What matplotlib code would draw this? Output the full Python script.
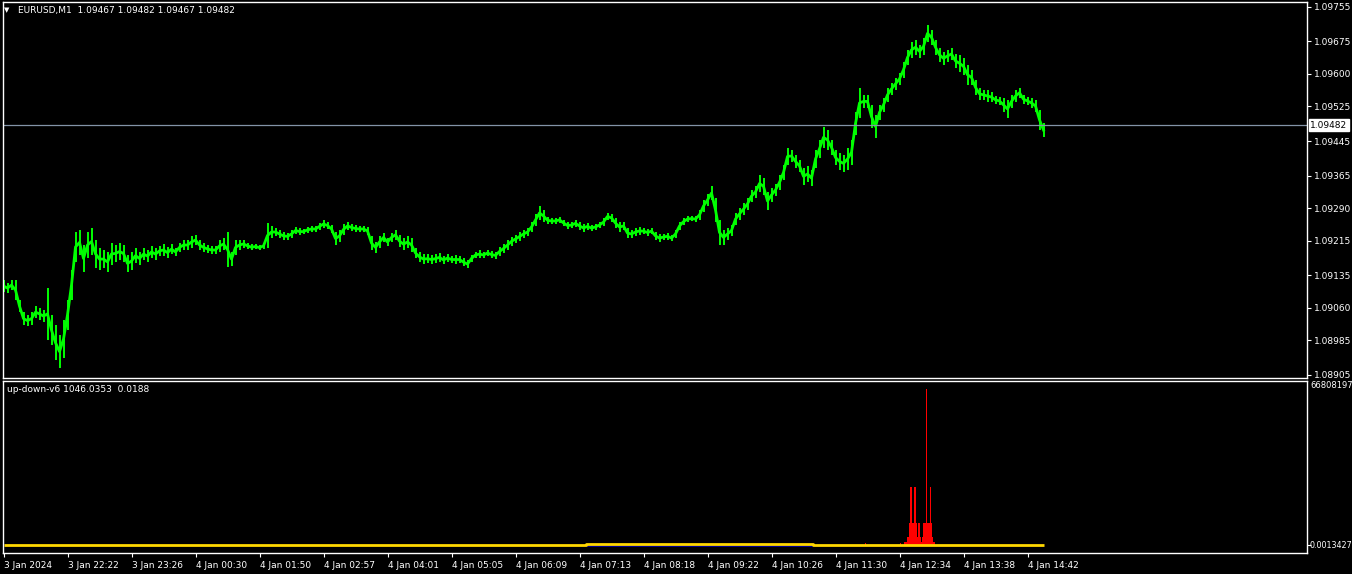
import numpy as np
import matplotlib.pyplot as plt

# EURUSD M1, high / low of every 4th bar
highs = [
    1.09124, 1.09117, 1.09124, 1.09124, 1.09078, 1.09050, 1.09043, 1.09050, 1.09064, 1.09060,
    1.09055, 1.09106, 1.09043, 1.09020, 1.08997, 1.09032, 1.09078, 1.09147, 1.09235, 1.09240,
    1.09205, 1.09235, 1.09244, 1.09217, 1.09198, 1.09193, 1.09189, 1.09210, 1.09205, 1.09210,
    1.09205, 1.09182, 1.09189, 1.09198, 1.09189, 1.09198, 1.09193, 1.09203, 1.09198, 1.09203,
    1.09207, 1.09200, 1.09207, 1.09198, 1.09210, 1.09217, 1.09217, 1.09226, 1.09228, 1.09217,
    1.09210, 1.09205, 1.09203, 1.09203, 1.09217, 1.09221, 1.09235, 1.09189, 1.09217, 1.09217,
    1.09217, 1.09210, 1.09207, 1.09207, 1.09205, 1.09210, 1.09256, 1.09249, 1.09244, 1.09240,
    1.09235, 1.09233, 1.09240, 1.09247, 1.09244, 1.09242, 1.09247, 1.09249, 1.09249, 1.09256,
    1.09263, 1.09258, 1.09251, 1.09235, 1.09240, 1.09254, 1.09258, 1.09254, 1.09251, 1.09249,
    1.09249, 1.09247, 1.09226, 1.09212, 1.09226, 1.09233, 1.09221, 1.09233, 1.09240, 1.09228,
    1.09221, 1.09226, 1.09221, 1.09198, 1.09189, 1.09184, 1.09184, 1.09182, 1.09184, 1.09187,
    1.09180, 1.09184, 1.09180, 1.09182, 1.09180, 1.09175, 1.09170, 1.09182, 1.09189, 1.09193,
    1.09189, 1.09193, 1.09191, 1.09189, 1.09200, 1.09207, 1.09217, 1.09224, 1.09228, 1.09235,
    1.09240, 1.09244, 1.09258, 1.09277, 1.09295, 1.09286, 1.09270, 1.09267, 1.09267, 1.09270,
    1.09263, 1.09258, 1.09258, 1.09263, 1.09258, 1.09254, 1.09256, 1.09251, 1.09254, 1.09258,
    1.09267, 1.09279, 1.09277, 1.09267, 1.09258, 1.09258, 1.09244, 1.09240, 1.09244, 1.09247,
    1.09244, 1.09242, 1.09244, 1.09235, 1.09230, 1.09230, 1.09233, 1.09228, 1.09240, 1.09258,
    1.09267, 1.09272, 1.09272, 1.09272, 1.09286, 1.09309, 1.09323, 1.09341, 1.09314, 1.09263,
    1.09240, 1.09244, 1.09251, 1.09279, 1.09291, 1.09302, 1.09314, 1.09332, 1.09341, 1.09367,
    1.09360, 1.09327, 1.09337, 1.09346, 1.09367, 1.09390, 1.09429, 1.09424, 1.09413, 1.09401,
    1.09383, 1.09387, 1.09378, 1.09424, 1.09448, 1.09478, 1.09471, 1.09448, 1.09424, 1.09418,
    1.09413, 1.09429, 1.09448, 1.09512, 1.09568, 1.09552, 1.09552, 1.09528, 1.09505, 1.09528,
    1.09545, 1.09568, 1.09579, 1.09591, 1.09602, 1.09628, 1.09655, 1.09674, 1.09679, 1.09667,
    1.09683, 1.09713, 1.09702, 1.09679, 1.09660, 1.09651, 1.09655, 1.09660, 1.09646, 1.09644,
    1.09637, 1.09621, 1.09609, 1.09586, 1.09568, 1.09563, 1.09563, 1.09558, 1.09549, 1.09547,
    1.09545, 1.09540, 1.09552, 1.09563, 1.09568, 1.09552, 1.09547, 1.09545, 1.09540, 1.09517,
    1.09487,
]
lows = [
    1.09097, 1.09094, 1.09101, 1.09078, 1.09050, 1.09020, 1.09018, 1.09020, 1.09036, 1.09032,
    1.09027, 1.08986, 1.08974, 1.08939, 1.08921, 1.08944, 1.09009, 1.09078, 1.09166, 1.09182,
    1.09143, 1.09175, 1.09182, 1.09152, 1.09147, 1.09152, 1.09143, 1.09159, 1.09166, 1.09170,
    1.09166, 1.09143, 1.09147, 1.09163, 1.09159, 1.09170, 1.09166, 1.09175, 1.09170, 1.09180,
    1.09180, 1.09175, 1.09184, 1.09180, 1.09189, 1.09193, 1.09193, 1.09198, 1.09205, 1.09193,
    1.09189, 1.09187, 1.09184, 1.09184, 1.09189, 1.09193, 1.09154, 1.09156, 1.09182, 1.09193,
    1.09198, 1.09196, 1.09193, 1.09196, 1.09193, 1.09196, 1.09198, 1.09221, 1.09226, 1.09221,
    1.09217, 1.09217, 1.09221, 1.09230, 1.09228, 1.09230, 1.09233, 1.09235, 1.09235, 1.09240,
    1.09244, 1.09242, 1.09233, 1.09205, 1.09212, 1.09228, 1.09240, 1.09237, 1.09235, 1.09235,
    1.09235, 1.09228, 1.09193, 1.09187, 1.09198, 1.09212, 1.09203, 1.09212, 1.09217, 1.09200,
    1.09193, 1.09198, 1.09189, 1.09175, 1.09166, 1.09161, 1.09163, 1.09161, 1.09163, 1.09166,
    1.09161, 1.09166, 1.09163, 1.09161, 1.09163, 1.09156, 1.09152, 1.09166, 1.09175, 1.09175,
    1.09175, 1.09180, 1.09175, 1.09173, 1.09180, 1.09187, 1.09193, 1.09203, 1.09210, 1.09214,
    1.09221, 1.09226, 1.09235, 1.09249, 1.09263, 1.09258, 1.09254, 1.09254, 1.09254, 1.09256,
    1.09249, 1.09242, 1.09244, 1.09247, 1.09240, 1.09235, 1.09240, 1.09237, 1.09240, 1.09244,
    1.09249, 1.09263, 1.09258, 1.09244, 1.09235, 1.09240, 1.09221, 1.09221, 1.09226, 1.09228,
    1.09230, 1.09226, 1.09230, 1.09217, 1.09212, 1.09217, 1.09217, 1.09214, 1.09221, 1.09240,
    1.09251, 1.09258, 1.09260, 1.09258, 1.09263, 1.09281, 1.09295, 1.09309, 1.09258, 1.09205,
    1.09205, 1.09217, 1.09226, 1.09251, 1.09263, 1.09274, 1.09286, 1.09304, 1.09314, 1.09327,
    1.09321, 1.09286, 1.09304, 1.09318, 1.09332, 1.09355, 1.09390, 1.09397, 1.09383, 1.09374,
    1.09344, 1.09351, 1.09341, 1.09383, 1.09406, 1.09429, 1.09424, 1.09413, 1.09390, 1.09378,
    1.09374, 1.09378, 1.09390, 1.09459, 1.09498, 1.09521, 1.09521, 1.09475, 1.09452, 1.09494,
    1.09512, 1.09535, 1.09552, 1.09563, 1.09575, 1.09591, 1.09621, 1.09637, 1.09644, 1.09637,
    1.09644, 1.09674, 1.09667, 1.09644, 1.09628, 1.09621, 1.09628, 1.09632, 1.09614, 1.09605,
    1.09598, 1.09575, 1.09575, 1.09552, 1.09540, 1.09540, 1.09535, 1.09535, 1.09531, 1.09528,
    1.09512, 1.09498, 1.09521, 1.09535, 1.09545, 1.09531, 1.09528, 1.09521, 1.09512, 1.09471,
    1.09454,
]
bid = 1.09482
ohlc_text = 'EURUSD,M1  1.09467 1.09482 1.09467 1.09482'

price_ticks = [1.09755, 1.09675, 1.09600, 1.09525, 1.09445, 1.09365,
               1.09290, 1.09215, 1.09135, 1.09060, 1.08985, 1.08905]
time_labels = ['3 Jan 2024', '3 Jan 22:22', '3 Jan 23:26', '4 Jan 00:30', '4 Jan 01:50',
               '4 Jan 02:57', '4 Jan 04:01', '4 Jan 05:05', '4 Jan 06:09', '4 Jan 07:13',
               '4 Jan 08:18', '4 Jan 09:22', '4 Jan 10:26', '4 Jan 11:30', '4 Jan 12:34',
               '4 Jan 13:38', '4 Jan 14:42']

# up-down-v6 indicator
hist_bars = [862, 897, 901, 902, 903, 904, 905, 906, 907, 908, 909, 910, 911, 912, 913, 914,
             915, 916, 917, 918, 919, 920, 921, 922, 923, 924, 925, 926, 927, 928, 929, 930, 931]
hist_vals = [80000, 80000, 122000, 122000, 122000, 326000, 326000, 896000, 2363000, 2363000,
             896000, 896000, 2363000, 2363000, 896000, 326000, 896000, 896000, 326000, 122000,
             326000, 896000, 896000, 896000, 6355000, 896000, 896000, 896000, 2363000, 896000,
             326000, 122000, 122000]
yellow_bars = [0, 582, 582, 809, 809, 1040]
yellow_vals = [0, 0, 53000, 53000, 0, 0]
blue_bars = [582, 809]
blue_vals = [0, 0]
ind_max = 6680820
ind_label = 'up-down-v6 1046.0353  0.0188'

W, H = 1352, 574
FS = 6.5
WHITE = '#ffffff'


def px(x, y):
    return x / W, 1 - y / H


def main():
    fig = plt.figure(figsize=(W / 100, H / 100), dpi=100, facecolor='black')
    ax = fig.add_axes([3 / W, 1 - 378 / H, 1304 / W, 376 / H], facecolor='black')
    ax2 = fig.add_axes([3 / W, 1 - 553 / H, 1304 / W, 172 / H], facecolor='black')

    bars = np.arange(len(highs)) * 4
    hi = np.array(highs)
    lo = np.array(lows)
    ax.plot(bars, (hi + lo) / 2, color='#00ff00', lw=2.0)
    ax.vlines(bars, lo, hi, color='#00ff00', lw=1.4)
    ax.axhline(bid, color='#8393a7', lw=0.9)

    ax.set_xlim(-0.5, 1303.5)
    ax.set_ylim(1.08898, 1.09766)
    ax.yaxis.tick_right()
    ax.set_yticks(price_ticks)
    ax.set_yticklabels(['%.5f' % v for v in price_ticks])
    ax.set_xticks([])

    ax2.bar(hist_bars, hist_vals, width=1.0, color='#ff0000', linewidth=0)
    ax2.plot(blue_bars, blue_vals, color='#0000a0', lw=2.0, solid_capstyle='butt')
    ax2.plot(yellow_bars, yellow_vals, color='#ffd700', lw=2.0, solid_capstyle='butt')
    ax2.set_xlim(-0.5, 1303.5)
    ax2.set_ylim(-ind_max * 8 / 164, ind_max)
    ax2.yaxis.tick_right()
    ax2.set_yticks([0])
    ax2.set_yticklabels([''])
    ax2.set_xticks(np.arange(len(time_labels)) * 64)
    ax2.set_xticklabels(time_labels, ha='left')

    for a in (ax, ax2):
        for s in a.spines.values():
            s.set_color(WHITE)
            s.set_linewidth(1.0)
        a.tick_params(colors=WHITE, labelcolor=WHITE, labelsize=FS, length=3,
                      width=0.8, pad=2)
    ax2.tick_params(axis='x', pad=3)

    # bid label box
    ax.text(1.0025, bid, '%.5f' % bid, transform=ax.get_yaxis_transform(),
            fontsize=FS, color='black', va='center', ha='left',
            bbox=dict(boxstyle='square,pad=0.15', fc='white', ec='white'))

    fig.text(*px(4, 10), '\u25bc', color=WHITE, fontsize=5, va='center', ha='left')
    fig.text(*px(18, 10), ohlc_text, color=WHITE, fontsize=FS, va='center', ha='left')
    fig.text(*px(7, 389), ind_label, color=WHITE, fontsize=FS, va='center', ha='left')
    fig.text(*px(1310, 386), '66808197', color=WHITE, fontsize=6, va='center', ha='left')
    fig.text(*px(1310, 546), '0.0013427', color=WHITE, fontsize=5.8, va='center', ha='left')

    fig.savefig('out.png', dpi=100, facecolor='black')


if __name__ == "__main__":
    main()
